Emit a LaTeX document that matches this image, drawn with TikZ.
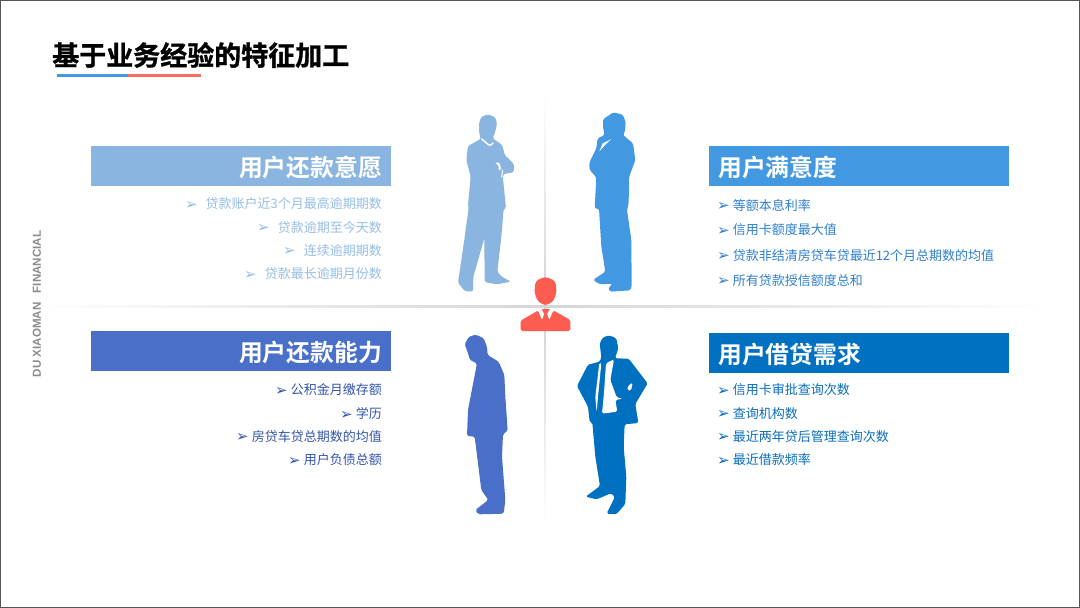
\documentclass[tikz,border=0pt]{standalone}
\usepackage{fontspec}
\setmainfont{Noto Sans CJK SC}
\newfontfamily\boldcjk{Noto Sans CJK SC Bold}
\newfontfamily\titlecjk[FakeBold=1.2]{Noto Sans CJK SC Bold}
\newfontfamily\bulfont{DejaVu Sans}
\newfontfamily\latinsans{Liberation Sans}
\usetikzlibrary{fadings}
\definecolor{lightb}{HTML}{8AB5E0}
\definecolor{midb}{HTML}{4299E1}
\definecolor{indigob}{HTML}{4A6FC8}
\definecolor{darkb}{HTML}{0070C0}
\definecolor{redc}{HTML}{FC5D50}
\definecolor{tlt}{HTML}{97BEE6}
\definecolor{ttr}{HTML}{2F80CE}
\definecolor{tbl}{HTML}{3355AA}
\definecolor{tbr}{HTML}{0A6DBB}
\definecolor{framec}{HTML}{555555}
\definecolor{axisc}{HTML}{D2D2D2}
\newcommand{\bul}{\raisebox{-0.5pt}{\smash{\bulfont\fontsize{15pt}{15pt}\selectfont ➢}}}
\tikzset{
  x=1pt,y=-1pt,
  panelbox/.style={minimum width=300pt,minimum height=40pt,inner sep=0pt,anchor=north west},
  paneltitle/.style={inner sep=0pt,text=white,font=\boldcjk\fontsize{23.8pt}{28pt}\selectfont},
  bulletl/.style={anchor=east,inner sep=0pt,yshift=-0.5pt,font=\fontsize{13pt}{15pt}\selectfont},
  bulletr/.style={anchor=west,inner sep=0pt,yshift=-0.5pt,font=\fontsize{13pt}{15pt}\selectfont},
  figure/.style={scale=1/3,rounded corners=1.6pt,line join=round},
}
\begin{document}
\begin{tikzpicture}
\useasboundingbox (0,0) rectangle (1080,608);
\fill[white] (0,0) rectangle (1080,608);
\draw[framec,line width=1.2pt] (0.6,0.6) rectangle (1079.4,607.4);
% axes
\fill[axisc,path fading=west,opacity=0.9] (40,305) rectangle (545,307.5);
\fill[axisc,path fading=east,opacity=0.9] (545,305) rectangle (1040,307.5);
\fill[axisc,path fading=north] (544.2,95) rectangle (546,306);
\fill[axisc,path fading=south] (544.2,306) rectangle (546,522);
% title
\node[anchor=west,inner sep=0pt,font=\titlecjk\fontsize{27pt}{30pt}\selectfont,text=black] (title) at (52,55) {基于业务经验的特征加工};
\fill[midb] (57,73.5) rectangle (127.5,76.5);
\fill[redc!90!white] (127.5,73.5) rectangle (201,76.5);
\node[rotate=90,inner sep=0pt,text=black!45,font=\latinsans\bfseries\fontsize{11.6pt}{13pt}\selectfont] (brand) at (37,304) {DU XIAOMAN\hspace{6pt} FINANCIAL};
% panels
\node[panelbox,fill=lightb] (p1) at (91,146) {};
\node[paneltitle,anchor=east] (p1t) at (382,167) {用户还款意愿};
\node[panelbox,fill=midb] (p2) at (709,146) {};
\node[paneltitle,anchor=west] (p2t) at (718,167) {用户满意度};
\node[panelbox,fill=indigob] (p3) at (91,331) {};
\node[paneltitle,anchor=east] (p3t) at (382,352) {用户还款能力};
\node[panelbox,fill=darkb] (p4) at (709,333) {};
\node[paneltitle,anchor=west] (p4t) at (718,354) {用户借贷需求};
% bullets top-left
\node[bulletl,text=tlt] (a1) at (382,203.5) {\bul\hspace{8pt}贷款账户近3个月最高逾期期数};
\node[bulletl,text=tlt] (a2) at (382,227) {\bul\hspace{8pt}贷款逾期至今天数};
\node[bulletl,text=tlt] (a3) at (382,250) {\bul\hspace{8pt}连续逾期期数};
\node[bulletl,text=tlt] (a4) at (382,273.5) {\bul\hspace{8pt}贷款最长逾期月份数};
% bullets top-right
\node[bulletr,text=ttr] (b1) at (717,205) {\bul\hspace{3pt}等额本息利率};
\node[bulletr,text=ttr] (b2) at (717,229.5) {\bul\hspace{3pt}信用卡额度最大值};
\node[bulletr,text=ttr] (b3) at (717,255) {\bul\hspace{3pt}贷款非结清房贷车贷最近12个月总期数的均值};
\node[bulletr,text=ttr] (b4) at (717,280) {\bul\hspace{3pt}所有贷款授信额度总和};
% bullets bottom-left
\node[bulletl,text=tbl] (c1) at (382,389.5) {\bul\hspace{3pt}公积金月缴存额};
\node[bulletl,text=tbl] (c2) at (382,413) {\bul\hspace{3pt}学历};
\node[bulletl,text=tbl] (c3) at (382,436) {\bul\hspace{3pt}房贷车贷总期数的均值};
\node[bulletl,text=tbl] (c4) at (382,459.5) {\bul\hspace{3pt}用户负债总额};
% bullets bottom-right
\node[bulletr,text=tbr] (d1) at (717,389.5) {\bul\hspace{3pt}信用卡审批查询次数};
\node[bulletr,text=tbr] (d2) at (717,413) {\bul\hspace{3pt}查询机构数};
\node[bulletr,text=tbr] (d3) at (717,436) {\bul\hspace{3pt}最近两年贷后管理查询次数};
\node[bulletr,text=tbr] (d4) at (717,459.5) {\bul\hspace{3pt}最近借款频率};
% figure: arms crossed
\begin{scope}[shift={(440,90)},figure]
\fill[lightb] (117,100)--(124,80)--(145,73)--(166,82)--(171,100)--(166,125)--(158,145)--(187,165)--(194,195)--(222,222)--(221,247)--(190,252)--(189,265)--(198,355)--(191,357)--(184,440)--(172,545)--(185,560)--(213,575)--(170,583)--(134,576)--(133,445)--(100,560)--(99,604)--(75,604)--(54,578)--(70,470)--(86,355)--(84,345)--(92,260)--(79,210)--(84,168)--(122,147)--(117,125)--cycle;
\draw[white,line width=1.4pt] (124,146)--(150,168)--(160,158);
\fill[white,sharp corners] (166,218)--(178,218)--(184,238)--(176,240)--(176,228)--cycle;
\draw[white,line width=1pt] (188,240)--(185,262);
\end{scope}
% figure: hand on chin
\begin{scope}[shift={(440,90)},figure]
\fill[midb] (489,88)--(520,67)--(548,74)--(557,95)--(555,125)--(549,135)--(579,160)--(586,210)--(567,262)--(566,340)--(561,360)--(574,450)--(575,590)--(571,601)--(510,605)--(505,594)--(518,581)--(480,583)--(459,570)--(496,545)--(484,470)--(477,356)--(464,356)--(469,262)--(449,240)--(448,218)--(469,175)--(473,145)--(494,135)--(489,112)--cycle;
\fill[white,sharp corners] (478,184)--(488,160)--(513,148)--(495,165)--cycle;
\end{scope}
% figure: head bowed
\begin{scope}[shift={(440,300)},figure]
\fill[indigob] (74,132)--(87,110)--(108,104)--(131,115)--(141,140)--(143,165)--(176,185)--(193,225)--(196,290)--(203,392)--(189,403)--(186,470)--(196,600)--(191,641)--(115,643)--(106,630)--(145,600)--(124,570)--(104,410)--(81,408)--(84,330)--(111,190)--(90,180)--(84,160)--cycle;
\end{scope}
% figure: hands on hips
\begin{scope}[shift={(440,300)},figure]
\fill[darkb] (479,130)--(489,112)--(508,106)--(529,115)--(535,145)--(525,175)--(566,176)--(623,250)--(586,312)--(595,369)--(554,373)--(551,440)--(559,530)--(556,612)--(529,643)--(500,641)--(525,590)--(512,580)--(470,598)--(437,590)--(480,558)--(466,470)--(457,368)--(449,366)--(444,320)--(411,258)--(444,194)--(479,185)--(484,172)--cycle;
\fill[white] (498,190)--(522,178)--(511,240)--(530,292)--(548,296)--(526,300)--(532,335)--(486,341)--(492,280)--cycle;
\fill[white] (478,188)--(472,240)--(466,290)--(470,336)--(474,290)--(484,190)--cycle;
\fill[white] (566,255)--(578,248)--(573,272)--(561,270)--cycle;
\end{scope}
% centre person icon
\begin{scope}[shift={(440,90)},figure]
\fill[redc,rounded corners=3pt] (284,592)--(288,572)--(316,560)--(345,572)--(349,592)--(349,610)--(340,634)--(316,647)--(293,634)--(284,610)--cycle;
\end{scope}
\begin{scope}[shift={(440,300)},figure]
\fill[redc] (242,62)--(295,31)--(305,55)--(314,30)--(320,30)--(328,55)--(340,31)--(391,60)--(391,93)--(242,93)--cycle;
\fill[redc,sharp corners] (305,27)--(329,27)--(321,42)--(326,65)--(316,72)--(308,65)--(313,42)--cycle;
\draw[white,line width=1.2pt,sharp corners] (296,30)--(306,55)--(311,40);
\draw[white,line width=1.2pt,sharp corners] (338,30)--(328,55)--(323,40);
\end{scope}
\end{tikzpicture}
\end{document}
